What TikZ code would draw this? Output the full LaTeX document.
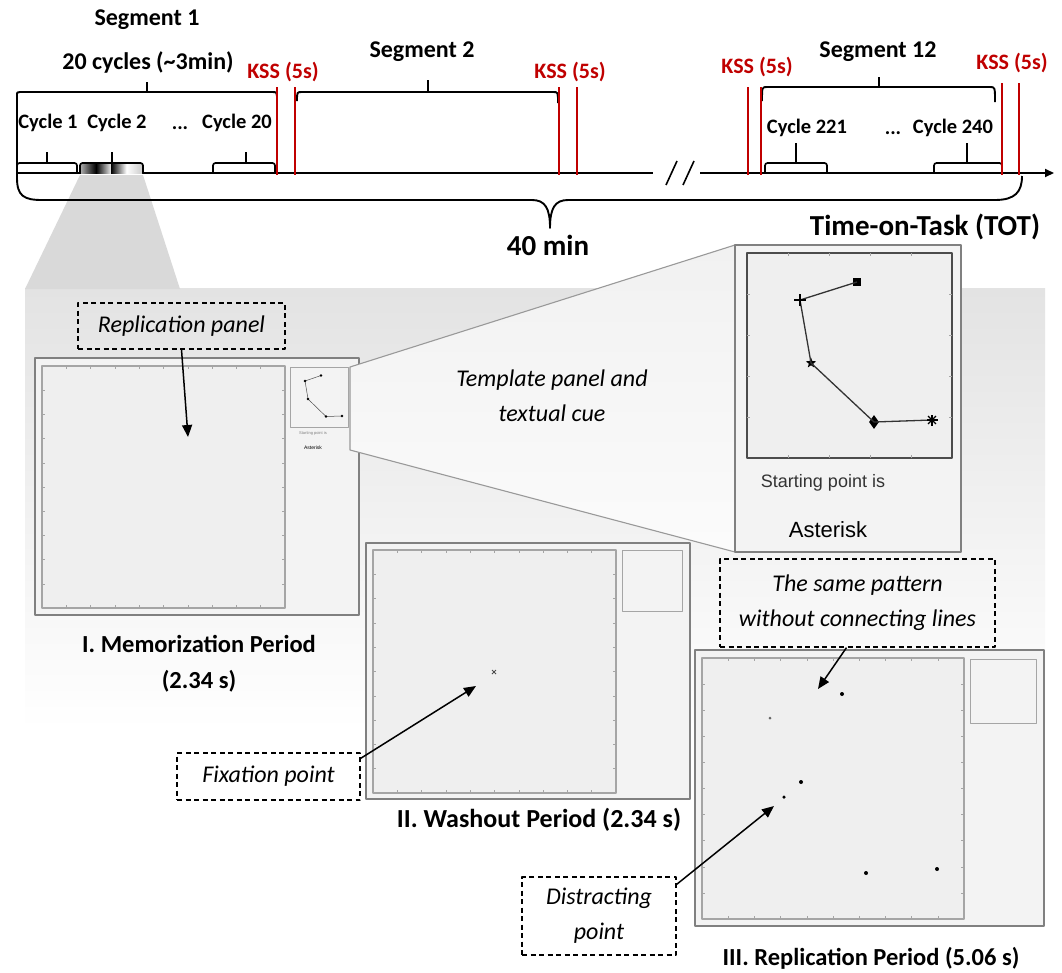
\documentclass[tikz,border=0pt]{standalone}
\usepackage{fontspec}
\setmainfont{Carlito}
\newfontfamily\arialfont{Liberation Sans}
\usetikzlibrary{shapes.geometric,arrows.meta}
\definecolor{kssred}{RGB}{192,0,0}
\definecolor{panelfill}{RGB}{239,239,239}
\definecolor{panelouter}{RGB}{243,243,243}
\definecolor{paneledge}{RGB}{128,128,128}
\definecolor{inneredge}{RGB}{165,165,165}
\newcommand\myticks[6]{%
  \foreach \k in {1,...,#5}{%
    \draw[tickmark] ({#1+\k*(#3-#1)/#6},#2) -- ++(0,3);
    \draw[tickmark] ({#1+\k*(#3-#1)/#6},#4) -- ++(0,-3);
    \draw[tickmark] (#1,{#2+\k*(#4-#2)/#6}) -- ++(3,0);
    \draw[tickmark] (#3,{#2+\k*(#4-#2)/#6}) -- ++(-3,0);
  }}
\begin{document}
\begin{tikzpicture}[x=1pt,y=-1pt,line join=round,
  tl/.style={line width=1.9pt,black},
  redl/.style={line width=2pt,kssred},
  brk/.style={line width=1.7pt,black,rounded corners=2.5pt},
  lbl/.style={font=\fontsize{24}{28}\selectfont\bfseries,inner sep=0},
  cyc/.style={font=\fontsize{20.5}{24}\selectfont\bfseries,inner sep=0},
  kss/.style={font=\fontsize{22}{26}\selectfont\bfseries,text=kssred,inner sep=0},
  big/.style={font=\fontsize{29}{33}\selectfont\bfseries,inner sep=0},
  note/.style={font=\fontsize{24}{35}\selectfont\itshape,align=center,inner sep=0},
  dbox/.style={draw,dash pattern=on 5pt off 3.5pt,line width=1.2pt,font=\fontsize{24}{35}\selectfont\itshape,align=center,inner sep=0},
  outerp/.style={draw=paneledge,fill=panelouter,line width=1.5pt},
  innerp/.style={draw=inneredge,fill=panelfill,line width=1.2pt},
  smallp/.style={draw=inneredge,fill=panelouter,line width=1pt},
  tickmark/.style={draw=inneredge,line width=0.6pt},
  arr/.style={line width=1.5pt,-{Triangle[length=12pt,width=10pt]}},
  zoomline/.style={draw=gray!80,line width=1.1pt},
  dot/.style={circle,fill=black,inner sep=0,minimum size=4pt},
  pat/.style={line width=1.3pt,black!80},
]
\useasboundingbox (0,0) rectangle (1062,972);
\fill[white] (0,0) rectangle (1062,972);

% ---------- grey background of the zoom ----------
\shade[top color=gray!22,bottom color=white] (25,288) rectangle (1045,730);
\fill[gray!30] (80,175) -- (143,175) -- (180,289) -- (25,289) -- cycle;

% ---------- timeline ----------
\draw[tl] (17,173) -- (653,173);
\draw[tl,-{Triangle[length=9pt,width=8pt]}] (700,173) -- (1054,173);
\draw[line width=1.6pt] (666,185) -- (677,161) (683,185) -- (694,161);

% 40 min brace (with segment 1 left leg)
\draw[tl] (20,92) .. controls (17,92) .. (17,96) -- (17,178)
  .. controls (17,196) and (24,200) .. (42,200) -- (532,200)
  .. controls (545,200) and (550,208) .. (550,228)
  .. controls (550,208) and (555,200) .. (568,200) -- (995,200)
  .. controls (1015,200) and (1022,192) .. (1022,176);

% segment brackets
\draw[tl] (20,92) -- (272,92) .. controls (277,92) .. (277,100);
\draw[tl] (147,92) -- (147,82);
\draw[tl] (297,101) .. controls (297,92) .. (302,92) -- (553,92) .. controls (558,92) .. (558,103);
\draw[tl] (428,92) -- (428,80);
\draw[tl] (762,101) .. controls (762,87) .. (767,87) -- (990,87) .. controls (995,87) .. (995,102);
\draw[tl] (879,87) -- (879,77);

% cycle brackets
\shade[left color=gray!70,right color=white!85!gray,middle color=black] (81,164) rectangle (111,173);
\shade[left color=black,right color=gray!40,middle color=white] (111,164) rectangle (142,173);
\draw[brk] (17,173) -- (17,163) -- (77,163) -- (77,173);
\draw[brk] (47,163) -- (47,152);
\draw[brk] (80,173) -- (80,163) -- (143,163) -- (143,173);
\draw[brk] (112,163) -- (112,152);
\draw[brk] (213,173) -- (213,163) -- (275,163) -- (275,173);
\draw[brk] (246,163) -- (246,152);
\draw[brk] (765,173) -- (765,163) -- (827,163) -- (827,173);
\draw[brk] (796,163) -- (796,143);
\draw[brk] (934,173) -- (934,163) -- (1002,163) -- (1002,173);
\draw[brk] (967,163) -- (967,143);

% KSS red lines
\draw[redl] (277,87) -- (277,175) (295,87) -- (295,175);
\draw[redl] (559,87) -- (559,175) (577,87) -- (577,175);
\draw[redl] (748,87) -- (748,175) (761,87) -- (761,175);
\draw[redl] (1002,83) -- (1002,175) (1019,83) -- (1019,175);

% timeline labels
\node[lbl] (seg1) at (147,20) {Segment 1};
\node[lbl] (cyc20) at (148,62) {20 cycles (\textasciitilde3min)};
\node[lbl] (seg2) at (422,52) {Segment 2};
\node[lbl] (seg12) at (878,52) {Segment 12};
\node[kss] (kss1) at (283,72) {KSS (5s)};
\node[kss] (kss2) at (570,72) {KSS (5s)};
\node[kss] (kss3) at (757,67) {KSS (5s)};
\node[kss] (kss4) at (1012,63) {KSS (5s)};
\node[cyc] (c1) at (48,123) {Cycle 1};
\node[cyc] (c2) at (117,123) {Cycle 2};
\node[cyc] (dots1) at (180,128) {...};
\node[cyc] (c20) at (237,123) {Cycle 20};
\node[cyc] (c221) at (807,128) {Cycle 221};
\node[cyc] (dots2) at (893,133) {...};
\node[cyc] (c240) at (953,128) {Cycle 240};
\node[big] (forty) at (548,245) {40 min};
\node[big] (tot) at (925,227) {Time-on-Task (TOT)};

% ---------- I. memorization screen ----------
\draw[outerp] (35,358) rectangle (359,615);
\draw[innerp] (42,366) rectangle (285,608);
\myticks{42}{366}{285}{608}{9}{10}
\draw[smallp] (290,367) rectangle (348,427);
\draw[line width=0.5pt,black!70] (321,375.5) -- (305,381) -- (308,399) -- (326,416.5) -- (342,416);
\foreach \p in {(321,375.5),(305,381),(308,399),(326,416.5),(342,416)} \fill \p circle (1.3pt);
\node[font=\arialfont\fontsize{4}{5}\selectfont,inner sep=0,text=gray] (tinystart) at (313,433) {Starting point is};
\node[font=\arialfont\fontsize{5}{6}\selectfont,inner sep=0] (tinyast) at (313,448) {Asterisk};

% zoom cone
\shade[top color=gray!11,bottom color=white!97!gray] (350,367) -- (735,245) -- (735,552) -- (350,450) -- cycle;
\draw[zoomline] (735,245) -- (350,367) -- (350,450) -- (735,552);

% ---------- zoomed template panel ----------
\draw[outerp] (735,245) rectangle (961,552);
\draw[draw=gray!60!black,fill=panelfill,line width=1.3pt] (747,253) rectangle (952,458);
\myticks{747}{253}{952}{458}{4}{5}
\node[rectangle,fill=black,minimum size=8pt,inner sep=0] (sq) at (857,282) {};
\coordinate (pl) at (800,300);
\node[star,star points=5,star point ratio=2.4,fill=black,minimum size=11pt,inner sep=0] (st) at (811,363) {};
\node[diamond,fill=black,minimum width=10pt,minimum height=14pt,inner sep=0] (dm) at (874,422) {};
\coordinate (as) at (932,420);
\draw[pat] (sq.center) -- (pl) -- (st.center) -- (dm.center) -- (as);
\draw[line width=1.3pt] (pl) ++(-6,0) -- ++(12,0) (pl) ++(0,-6) -- ++(0,12);
\foreach \a in {0,45,90,135} \draw[line width=1.3pt] (as) ++(\a:5.5) -- ++(\a+180:11);
\node[font=\arialfont\fontsize{18}{22}\selectfont,inner sep=0,text=black!80] (start) at (823,483) {Starting point is};
\node[font=\arialfont\fontsize{22}{26}\selectfont,inner sep=0] (aster) at (828,530) {Asterisk};

\node[note] (tmpl) at (552,396) {Template panel and\\textual cue};

% ---------- II. washout screen ----------
\draw[outerp] (366,543) rectangle (690,799);
\draw[innerp] (373,550) rectangle (616,793);
\myticks{373}{550}{616}{793}{9}{10}
\draw[smallp] (622,550) rectangle (682,611);
\coordinate (fix) at (494,672);
\draw[line width=0.8pt,black!70] (fix) ++(-2,-2) -- ++(4,4) (fix) ++(-2,2) -- ++(4,-4);

% ---------- III. replication screen ----------
\draw[outerp] (695,650) rectangle (1044,926);
\draw[innerp] (702,658) rectangle (964,919);
\myticks{702}{658}{964}{919}{9}{10}
\draw[smallp] (970,659) rectangle (1036,723);
\node[dot] (d1) at (842,694) {};
\node[dot,minimum size=3pt,fill=black!60] (d2) at (770,718) {};
\node[dot] (d3) at (801,782) {};
\node[dot,minimum size=3.5pt] (d4) at (784,797) {};
\node[dot] (d5) at (866,873) {};
\node[dot] (d6) at (937,869) {};

% ---------- captions ----------
\node[inner sep=0,align=center,font=\fontsize{24.5}{36}\selectfont\bfseries] (cap1) at (199,664) {I. Memorization Period\\(2.34 s)};
\node[inner sep=0,font=\fontsize{26}{30}\selectfont\bfseries] (cap2) at (539,820) {II. Washout Period (2.34 s)};
\node[inner sep=0,font=\fontsize{24.5}{30}\selectfont\bfseries] (cap3) at (871,958) {III. Replication Period (5.06 s)};

% ---------- dashed notes and arrows ----------
\node[dbox,minimum width=207pt,minimum height=46pt] (rp) at (181.5,326) {Replication panel};
\coordinate (rptip) at (188,437);
\draw[arr] (rp.south) -- (rptip);

\node[dbox,minimum width=183pt,minimum height=47pt] (fx) at (268.5,776.5) {Fixation point};
\coordinate (fxtip) at (476,686);
\draw[arr] ([yshift=-6pt]fx.north east) -- (fxtip);

\node[dbox,minimum width=275pt,minimum height=88pt] (sp) at (857.5,603) {The same pattern\\without connecting lines};
\coordinate (sptip) at (818,689);
\draw[arr] ([xshift=-11pt]sp.south) -- (sptip);

\node[dbox,minimum width=154pt,minimum height=78pt] (dp) at (599,916) {Distracting\\point};
\coordinate (dptip) at (774,806);
\draw[arr] ([yshift=-8pt]dp.north east) -- (dptip);
\end{tikzpicture}
\end{document}
